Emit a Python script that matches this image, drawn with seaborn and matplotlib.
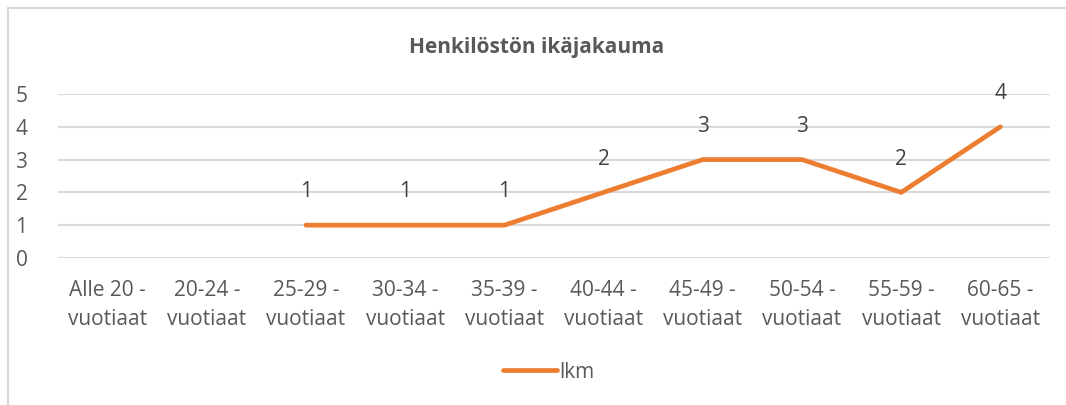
import numpy as np
import pandas as pd
import matplotlib
matplotlib.use("Agg")
import matplotlib.pyplot as plt
import seaborn as sns

# data
kategoriat = ["Alle 20 -\nvuotiaat", "20-24 -\nvuotiaat", "25-29 -\nvuotiaat", "30-34 -\nvuotiaat",
              "35-39 -\nvuotiaat", "40-44 -\nvuotiaat", "45-49 -\nvuotiaat", "50-54 -\nvuotiaat",
              "55-59 -\nvuotiaat", "60-65 -\nvuotiaat"]
lkm = [np.nan, np.nan, 1, 1, 1, 2, 3, 3, 2, 4]
sarja = "lkm"
otsikko = "Henkilöstön ikäjakauma"

sns.set_style("white")
plt.rcParams['font.family'] = ['Open Sans', 'DejaVu Sans']
harmaa = "#595959"
oranssi = "#ED7D31"

df = pd.DataFrame({"pos": range(len(kategoriat)), "lkm": lkm})

fig = plt.figure(figsize=(10.66, 4.05), dpi=100)
ax = fig.add_axes([0.0544, 0.363, 0.9306, 0.405])

sns.lineplot(data=df.dropna(), x="pos", y="lkm", ax=ax, color=oranssi, linewidth=3.4,
             solid_capstyle="round", solid_joinstyle="miter", label=sarja)

# data labels
for i, v in enumerate(lkm):
    if not np.isnan(v):
        ax.annotate(f"{int(v)}", (i, v), xytext=(0, 24), textcoords="offset points",
                    ha="center", va="center", fontsize=15, color="#404040")

ax.set_xlim(-0.5, len(kategoriat) - 0.5)
ax.set_ylim(0, 5)
ax.set_yticks(range(0, 6))
ax.set_xticks(range(len(kategoriat)))
ax.set_xticklabels(kategoriat, fontsize=15, color=harmaa, linespacing=1.5)
ax.tick_params(axis="y", labelsize=15, labelcolor=harmaa, length=0, pad=22)
ax.tick_params(axis="x", length=0, pad=16)
ax.set_xlabel("")
ax.set_ylabel("")
ax.yaxis.grid(True, color="#D9D9D9", linewidth=1.5)
ax.set_axisbelow(True)
for s in ax.spines.values():
    s.set_visible(False)

fig.text(0.503, 1 - 47 / 405, otsikko, ha="center", va="center", fontsize=15,
         fontweight="bold", color=harmaa)

leg = ax.legend(loc="center", bbox_to_anchor=(0.515, 1 - 372 / 405), bbox_transform=fig.transFigure,
                frameon=False, fontsize=15, handlelength=2.6, handletextpad=0.1, labelcolor=harmaa)

# chart border
fig.add_artist(plt.Line2D([8 / 1066, 8 / 1066], [0, 1 - 8 / 405], color="#D9D9D9", linewidth=1.5))
fig.add_artist(plt.Line2D([8 / 1066, 1], [1 - 8 / 405, 1 - 8 / 405], color="#D9D9D9", linewidth=1.5))

fig.savefig("out.png", dpi=100)
